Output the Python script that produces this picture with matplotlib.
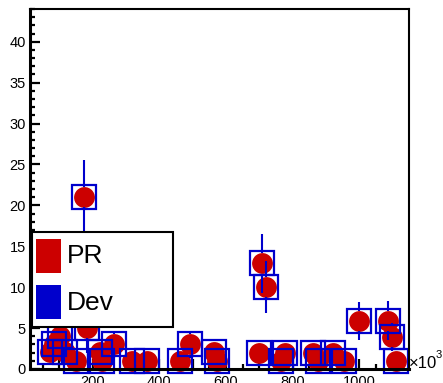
import numpy as np
import matplotlib
matplotlib.use("Agg")
import matplotlib.pyplot as plt
from matplotlib.patches import Rectangle
from matplotlib.ticker import MultipleLocator, FuncFormatter

plt.rcParams['font.family'] = ['Liberation Sans', 'DejaVu Sans']

# ---------------------------------------------------------------------------
# data (x in units of 10^3)
# ---------------------------------------------------------------------------
x_pts = [71, 83, 101, 116, 151, 173, 183, 221, 229, 263, 317, 362, 462, 492,
         564, 574, 698, 709, 720, 766, 776, 862, 877, 922, 954, 999, 1087,
         1099, 1110]
y_pts = [2.1, 3.0, 4.0, 2.1, 1.0, 21.0, 5.0, 2.1, 1.0, 3.0, 1.0, 1.0, 1.0, 3.0,
         2.1, 1.0, 2.0, 12.9, 10.0, 1.0, 2.0, 2.0, 1.0, 2.0, 1.0, 5.9, 5.9,
         3.95, 1.0]
y_err = [0, 0, 0, 0, 0, 4.6, 3.0, 0, 0, 1.6, 0, 0, 0, 1.6,
         0, 0, 0, 3.6, 3.15, 0, 0, 0, 0, 0, 0, 2.35, 2.4,
         1.7, 0]
labels = ['PR', 'Dev']

red = '#cc0000'
blue = '#0000cc'

x = np.array(x_pts, dtype=float)
y = np.array(y_pts)
e = np.array(y_err)

fig = plt.figure(figsize=(4.43, 3.83), dpi=100)
ax = fig.add_axes([30 / 443, 1 - 369 / 383, 379 / 443, 360 / 383])
ax.set_xlim(12, 1149)
ax.set_ylim(0, 44)

# PR: filled circles
ax.plot(x, y, 'o', color=red, ms=15, mew=0, zorder=2, clip_on=False)

# error bars (ROOT leaves a gap inside the marker)
r = 1.25
m = e > r
ax.vlines(x[m], y[m] + r, y[m] + e[m], color=blue, lw=1.5, zorder=3)
ax.vlines(x[m], y[m] - e[m], y[m] - r, color=blue, lw=1.5, zorder=3)

# Dev: open squares
ax.plot(x, y, 's', mfc='none', mec=blue, ms=17.5, mew=1.6, zorder=3, clip_on=False)

# axes style
ax.xaxis.set_major_locator(MultipleLocator(100))
ax.xaxis.set_minor_locator(MultipleLocator(50))
ax.xaxis.set_major_formatter(FuncFormatter(lambda v, p: f"{int(v)}" if v % 200 == 0 else ""))
ax.yaxis.set_major_locator(MultipleLocator(5))
ax.yaxis.set_minor_locator(MultipleLocator(1))
ax.tick_params(which='both', direction='in', top=False, right=False,
               labelsize=10.5, width=1.6, color='black')
ax.tick_params(which='major', length=7.5, pad=3)
ax.tick_params(which='minor', length=3.5)
ax.tick_params(axis='x', pad=4)
for s in ['left', 'bottom']:
    ax.spines[s].set_linewidth(2.2)
for s in ['top', 'right']:
    ax.spines[s].set_linewidth(1.5)
for s in ax.spines.values():
    s.set_zorder(4)

fig.text(409 / 443, 1 - 363 / 383, '\u00d710', fontsize=12, ha='left', va='center')
fig.text(436 / 443, 1 - 355 / 383, '3', fontsize=8, ha='left', va='center')

# legend drawn by hand (ROOT TLegend look)
ax.add_patch(Rectangle((0.0045, 0.117), 0.373, 0.264, transform=ax.transAxes,
                       fc='white', ec='black', lw=1.5, zorder=10, clip_on=False))
for yy, col, lab, ty in [(0.267, red, labels[0], 0.314), (0.139, blue, labels[1], 0.183)]:
    ax.add_patch(Rectangle((0.0158, yy), 0.066, 0.093, transform=ax.transAxes,
                           fc=col, ec='none', zorder=11, clip_on=False))
    ax.text(0.0976, ty, lab, transform=ax.transAxes, fontsize=19,
            ha='left', va='center', zorder=12)

fig.savefig('out.png', dpi=100)
